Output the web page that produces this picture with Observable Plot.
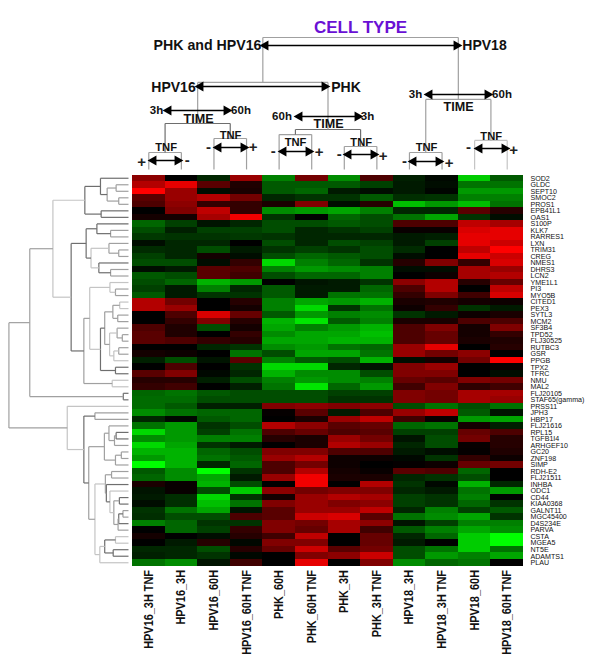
<!DOCTYPE html>
<html><head><meta charset="utf-8">
<script src="https://cdn.jsdelivr.net/npm/d3@7"></script>
<script src="https://cdn.jsdelivr.net/npm/@observablehq/plot@0.6"></script>
<style>html,body{margin:0;padding:0;background:#fff}svg{display:block}</style>
</head><body><div id="chart"></div>
<script>
const columns = ["HPV16_3H TNF","HPV16_3H","HPV16_60H","HPV16_60H TNF","PHK_60H","PHK_60H TNF","PHK_3H","PHK_3H TNF","HPV18_3H","HPV18_3H TNF","HPV18_60H","HPV18_60H TNF"];
const genes = ["SOD2","GLDC","SEPT10","SMOC2","PROS1","EPB41L1","OAS1","S100P","KLK7","RARRES1","LXN","TRIM31","CREG","NMES1","DHRS3","LCN2","YME1L1","PI3","MYO5B","CITED1","PEX3","SYTL3","MCM2","SF3B4","TPD52","FLJ30525","RUTBC3","GSR","PPGB","TPX2","TFRC","NMU","MAL2","FLJ20105","STAF65(gamma)","PRSS11","JPH3","HBP17","FLJ21616","RPL15","TGFB1I4","ARHGEF10","GC20","ZNF198","SIMP","RDH-E2","FLJ21511","INHBA","ODC1","CD44","KIAA0368","GALNT11","MGC45400","D4S234E","PARVA","CSTA","MGEA5","NT5E","ADAMTS1","PLAU"];
// expression per gene (row), one value per column: + red, - green, in percent of full scale
const expression = [
[55,0,-15,60,-50,45,-55,30,-12,-3,-80,-35],
[70,90,35,12,-35,-35,-35,-25,-10,-5,-45,-45],
[100,60,-5,10,-35,-40,-10,-5,-10,-2,-60,-60],
[35,60,70,45,-15,-20,-20,-35,-18,-20,-50,-50],
[30,55,20,20,10,50,-5,15,-75,-60,-75,-45],
[0,50,75,20,-55,-60,-65,-50,-15,-15,35,15],
[8,8,65,95,-20,0,-40,-30,-45,-65,-20,-5],
[-40,-25,-8,-15,-30,-30,-35,-30,30,30,75,65],
[-30,-12,-25,-25,-30,-15,-20,-25,3,3,85,90],
[-22,-20,-20,-22,-20,-15,-15,-15,-10,-12,90,90],
[-5,-15,-15,0,-30,-15,-30,-25,-10,-25,90,80],
[-17,-15,-30,-10,-20,-25,-20,-30,-17,0,75,100],
[-25,-15,8,-5,-30,-40,-35,-30,-5,0,90,80],
[-30,-30,-5,20,-85,-50,-40,-20,15,50,20,85],
[-5,-10,35,30,-50,-60,-55,-50,-5,-5,65,60],
[-35,-30,35,25,-30,-40,-40,-50,0,5,65,70],
[-30,-40,-70,-60,0,-8,-10,-20,55,70,15,40],
[-25,-10,-50,-15,-35,-10,-10,-40,30,70,0,75],
[-35,-10,-20,-20,-35,-10,-45,-45,20,50,25,85],
[70,45,0,15,-50,-65,-60,-70,10,12,8,5],
[70,60,0,8,-50,-85,-20,-45,5,20,-20,-10],
[0,30,85,40,-35,-60,-50,-55,-20,-10,5,10],
[0,20,50,15,-70,-90,-35,-50,10,10,30,30],
[30,12,-30,8,-65,-50,-60,-70,30,50,8,50],
[35,12,0,20,-55,-65,-65,-75,30,40,8,20],
[35,30,20,15,-65,-65,-70,-70,30,40,10,12],
[0,0,-15,-20,-55,-60,-45,-40,60,90,0,15],
[8,5,0,-45,-30,-65,-65,-45,60,45,55,0],
[-12,-30,-8,35,-50,-35,-30,-70,-5,8,45,100],
[0,30,0,-20,-85,-85,-15,-8,50,60,0,3],
[35,50,-3,-15,-70,-55,-55,-30,50,50,0,-5],
[15,15,-12,-30,-50,-60,-55,-50,40,35,50,45],
[20,25,0,-12,-45,-90,-40,-60,25,50,18,25],
[-40,-45,-35,-30,-30,-30,-25,-25,50,45,65,65],
[-42,-42,-30,-30,-30,-30,-20,-20,50,45,65,60],
[-42,-35,-12,-12,50,55,50,55,-30,-45,-30,-45],
[-55,-45,-40,-40,2,35,-10,30,60,75,-35,-8],
[-15,-3,-35,-40,0,10,60,75,25,3,-60,-65],
[-45,-60,-20,-30,70,55,35,40,-40,-45,8,-12],
[-85,-60,-25,-45,30,40,30,35,-25,-25,40,30],
[-55,-60,-50,-50,15,10,60,45,-8,-30,45,15],
[-85,-65,-20,-10,0,10,70,60,-15,-30,3,15],
[-70,-70,-40,-30,50,50,30,30,-10,-5,2,12],
[-60,-70,-45,-35,60,70,5,5,-3,-20,20,5],
[-100,-70,-15,-40,30,45,5,0,2,5,40,45],
[-35,-55,-100,-20,30,70,8,3,35,30,-40,0],
[-40,-55,-65,-10,60,95,10,10,-15,-20,-30,0],
[10,3,-70,-30,0,95,0,70,-20,-3,-70,-15],
[-8,3,-30,-80,55,45,50,50,-15,-10,-45,-60],
[-10,-18,-85,-20,8,60,70,65,-25,-20,-50,0],
[-5,-18,-75,-45,50,60,50,55,-25,-20,-40,-20],
[-20,-45,-65,-8,35,60,60,75,-15,-50,-25,-35],
[-18,-30,-30,30,35,80,85,35,-45,-55,-65,-20],
[-50,-40,-20,-20,50,45,65,55,-8,-25,-50,-50],
[0,-40,-25,20,50,40,65,25,-35,-50,-65,-55],
[8,0,-5,15,25,75,0,40,-15,-40,-80,-100],
[0,-10,15,-3,50,50,0,40,-10,0,-80,-100],
[-15,-15,-30,15,40,80,35,45,-30,-45,-80,-45],
[-12,-15,-20,-3,0,50,55,80,-30,-60,-50,-65],
[-45,-55,-8,25,0,90,0,50,-55,-40,-45,0]
];
// gene clustering: [merge distance, child, child, line shade]; a number child is a row index
const clusterA = [1.34,[.86,0,[.655,[.38,1,2,1],[.3,3,4,1],1],2],[.84,5,6,2],2];
const clusterB = [1.3,[.97,7,[.55,8,9,1],2],[1.15,[.6,10,[.3,11,12,1],1],[.91,13,[.55,14,15,1],2],0],2];
const clusterC = [1.37,[1.19,[.57,16,[.4,17,18,1],0],[.86,[.73,[.48,[.27,19,20,0],[.33,21,22,1],1],[.58,[.35,23,[.19,24,25,1],1],[.45,[.3,26,27,1],28,0],0],1],[.4,29,30,2],2],0],[.5,31,32,0],1];
const clusterD = [1.88,35,[1.37,[1.03,36,37,1],[1.22,[.74,[.6,38,[.43,[.38,39,40,2],41,1],1],[.4,[.22,42,43,1],44,1],1],[1.03,[.71,[.52,45,46,1],[.68,47,[.57,48,[.45,[.28,49,50,2],[.32,[.3,[.17,51,52,1],53,2],54,1],1],0],2],1],[.88,[.73,[.4,55,56,0],[.47,57,58,2],2],59,0],0],1],2],0];
const geneTree = [3.67,[3.03,[2.32,clusterA,[1.76,clusterB,clusterC,2],0],[.16,33,34,2],1],clusterD,1];
// condition clustering, heights in rows above the heatmap; a number child is a column index
const conditionTree = [21.1,[14.2,[7.9,[3.45,0,1,1],[5.6,2,3,1],2],[6.98,[6.2,4,5,1],[4.37,6,7,1],2],1],[11.6,[3.45,8,9,1],[5.3,10,11,0],1],1];

// annotation layout, placed in page pixels and converted to scale units below
const colW = 391/12, rowH = 391/60, left = 132, top0 = 174.5;
const X = px => (px - left)/colW, Y = py => (py - top0)/rowH;
const headings = [["CELL TYPE",360,27,17,"#6a10d4"],["PHK and HPV16",207,45,14.2],["HPV18",484,45,14],["HPV16",173,87,14],["PHK",345.5,87,14],
 ["TIME",198,118,12.6],["TIME",328,123,12.6],["TIME",458,106,12.6],
 ["3h",156,110,11.5],["60h",240.5,110,11.5],["60h",281.5,116,11.5],["3h",367,116,11.5],["3h",415,94,11.5],["60h",501.5,94,11.5],
 ["TNF",165.6,147,11.2],["TNF",230,134.7,11.2],["TNF",295,142,11.2],["TNF",360.7,142,11.2],["TNF",426,146.7,11.2],["TNF",490.7,135.7,11.2]];
const signs = [["+",141,162],["-",186.7,160],["-",208,147],["+",252.7,147],["-",272.7,151],["+",318.7,152],["-",338.7,154],["+",382.7,155.7],["-",404,160.7],["+",448.7,162.7],["-",468,147],["+",513,150]];
const arrows = [[263,458,45],[198,326,86],[166,228,110],[297,359,116],[427,489,94],[151,179,160],[216,245,147],[281,310,151],[346,375,154],[411,440,161],[477,506,148]];

const cells = expression.flatMap((row,r)=>row.map((v,c)=>({r,c,v,gene:genes[r],column:columns[c]})));
const shade = ["#c4c4c4","#a0a0a0","#6e6e6e"];
const segs = [];
const leafGap = 4/colW;
function walkGene(n){
  if(typeof n==="number") return {x:-leafGap,y:n+.5};
  const a=walkGene(n[1]), b=walkGene(n[2]), x=-leafGap-n[0], s=shade[n[3]];
  segs.push({x1:x,y1:a.y,x2:x,y2:b.y,s},{x1:x,y1:a.y,x2:a.x,y2:a.y,s},{x1:x,y1:b.y,x2:b.x,y2:b.y,s});
  return {x,y:(a.y+b.y)/2};
}
const rootG = walkGene(geneTree);
function walkCond(n){
  if(typeof n==="number") return {x:n+.5,y:-.85};
  const a=walkCond(n[1]), b=walkCond(n[2]), y=-n[0], s=shade[n[3]];
  segs.push({x1:a.x,y1:y,x2:b.x,y2:y,s},{x1:a.x,y1:y,x2:a.x,y2:a.y,s},{x1:b.x,y1:y,x2:b.x,y2:b.y,s});
  return {x:(a.x+b.x)/2,y};
}
walkCond(conditionTree);

const font = "Liberation Sans, Arial, Helvetica, sans-serif";
const chart = Plot.plot({
  width:600,height:669,margin:0,
  style:{background:"#fff",fontFamily:font},
  x:{domain:[X(0),X(600)],range:[0,600],axis:null},
  y:{domain:[Y(0),Y(669)],range:[0,669],axis:null},
  color:{type:"linear",domain:[-100,0,100],range:["#00ff00","#000000","#ff0000"],interpolate:"rgb",legend:false},
  marks:[
    Plot.rect(cells,{x1:d=>d.c,x2:d=>d.c+1,y1:d=>d.r,y2:d=>d.r+1,fill:"v",shapeRendering:"crispEdges"}),
    Plot.link(segs,{x1:"x1",y1:"y1",x2:"x2",y2:"y2",stroke:"s",strokeWidth:1.2}),
    Plot.text(genes,{x:()=>12,y:(d,i)=>i+.5,text:d=>d,dx:7,textAnchor:"start",fontSize:7.1,fill:"#111"}),
    Plot.text(columns,{x:(d,i)=>i+.5,y:()=>60,text:d=>d,dy:4,rotate:-90,textAnchor:"end",fontSize:12.4,fontWeight:"bold",fill:"#111",className:"col-labels"}),
    Plot.text(headings,{x:d=>X(d[1]),y:d=>Y(d[2]),text:d=>d[0],fontSize:d=>d[3],fill:d=>d[4]||"#111",fontWeight:"bold",lineAnchor:"middle"}),
    Plot.text(signs,{x:d=>X(d[1]),y:d=>Y(d[2]),text:d=>d[0],fontSize:15,fontWeight:"bold",fill:"#222",lineAnchor:"middle"}),
    Plot.link(arrows,{x1:d=>X(d[0]),x2:d=>X(d[1]),y1:d=>Y(d[2]),y2:d=>Y(d[2]),stroke:"#000",strokeWidth:1.5}),
    Plot.dot(arrows,{x:d=>X(d[0]+2),y:d=>Y(d[2]),symbol:"triangle",r:3.8,fill:"#000",rotate:-90}),
    Plot.dot(arrows,{x:d=>X(d[1]-2),y:d=>Y(d[2]),symbol:"triangle",r:3.8,fill:"#000",rotate:90})
  ]
});
document.getElementById("chart").append(chart);
// the reference's column labels are condensed: tall glyphs in a shorter run
chart.querySelectorAll(".col-labels text").forEach(t=>{
  t.setAttribute("textLength", t.getComputedTextLength()*0.88);
  t.setAttribute("lengthAdjust","spacingAndGlyphs");
});
</script></body></html>
